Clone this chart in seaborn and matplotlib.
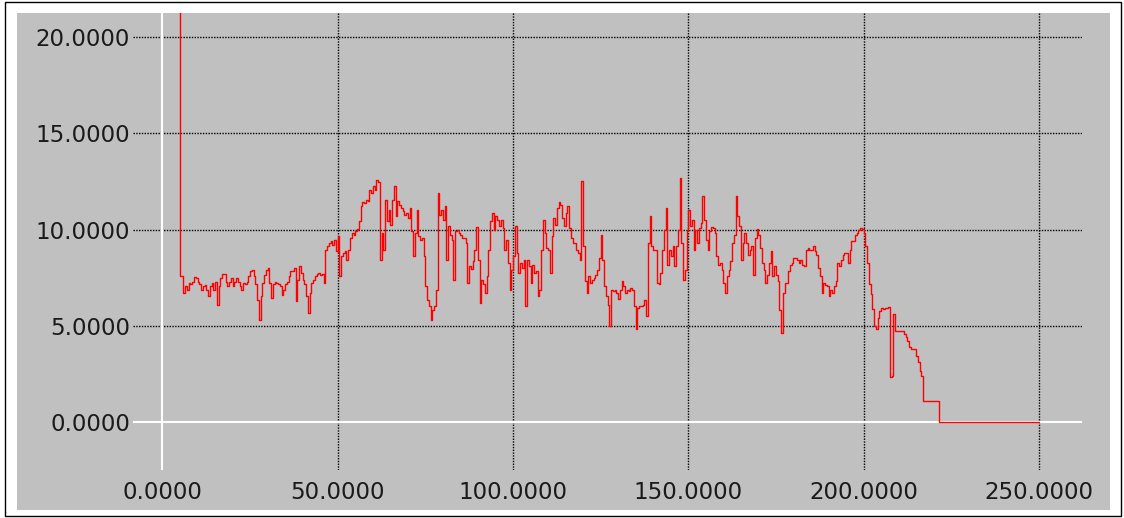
import numpy as np
import pandas as pd
import matplotlib
matplotlib.use("Agg")
import matplotlib.pyplot as plt
from matplotlib.patches import Rectangle
from matplotlib.ticker import FormatStrFormatter
import seaborn as sns

# samples are 0.5 apart inside each segment
STEP = 0.5

# start value, off the top of the chart
head_x = [0.0]
head_y = [25.0]

# x = 5.0 .. 44.5
seg1_start = 5.0
seg1 = [7.6, 7.6, 6.7, 7.06, 6.88, 7.23, 7.15, 7.3, 7.55, 7.5,
        7.3, 7.15, 6.88, 7.06, 7.1, 6.88, 6.54, 7.06, 7.23, 6.88,
        7.3, 6.1, 7.06, 7.5, 7.7, 7.7, 7.3, 7.06, 7.3, 7.5,
        7.06, 7.3, 7.5, 7.3, 7.06, 6.88, 7.23, 7.15, 7.3, 7.58,
        7.84, 7.92, 7.6, 7.15, 6.36, 5.32, 6.54, 7.23, 7.66, 7.92,
        8.0, 7.23, 6.45, 7.15, 7.26, 7.23, 7.15, 7.06, 6.62, 6.88,
        7.15, 7.26, 7.58, 7.84, 7.84, 8.0, 6.28, 7.4, 8.1, 7.75,
        7.4, 7.15, 6.54, 5.67, 6.71, 7.23, 7.4, 7.58, 7.7, 7.75]

# x = 45.0 .. 87.0
seg2_start = 45.0
seg2 = [7.66, 7.7, 7.23, 8.96, 9.13, 9.31, 9.39, 9.22, 9.48, 8.87,
        9.65, 7.6, 8.61, 8.79, 8.87, 8.44, 8.96, 9.57, 9.83, 9.74,
        9.91, 10.03, 10.43, 11.21, 11.42, 11.39, 11.56, 11.47, 12.08, 11.9,
        12.25, 12.08, 12.6, 12.46, 8.44, 9.83, 8.96, 11.56, 10.43, 11.04,
        10.26, 11.56, 12.25, 10.69, 11.47, 11.3, 11.13, 10.95, 10.78, 10.87,
        10.6, 11.13, 9.91, 8.61, 9.83, 11.04, 9.65, 9.48, 9.57, 8.61,
        7.06, 6.36, 6.02, 5.32, 5.84, 6.02, 6.88, 11.9, 10.78, 11.04,
        10.52, 11.21, 8.44, 10.17, 9.74, 9.48, 7.4, 9.91, 10.0, 9.83,
        9.74, 9.57, 9.57, 9.31, 7.23]

# x = 87.5 .. 127.5
seg3_start = 87.5
seg3 = [8.1, 7.96, 8.35, 8.96, 10.14, 8.44, 6.2, 7.4, 7.15, 6.71,
        7.58, 8.96, 10.43, 10.87, 10.0, 10.69, 10.52, 10.21, 10.48, 10.09,
        8.96, 9.48, 8.27, 6.88, 7.92, 8.61, 10.17, 8.79, 7.75, 8.27,
        8.0, 8.44, 6.02, 8.44, 8.1, 7.23, 8.18, 7.75, 7.84, 6.54,
        6.88, 8.96, 10.52, 9.83, 9.05, 8.96, 7.75, 9.65, 10.6, 10.26,
        11.13, 11.42, 11.3, 10.6, 10.17, 10.87, 11.21, 10.09, 9.57, 9.31,
        9.31, 8.96, 8.79, 8.44, 12.51, 9.13, 7.32, 6.71, 7.58, 7.23,
        7.4, 7.49, 7.66, 7.92, 8.53, 9.74, 8.44, 7.06, 6.54, 6.1,
        4.98]

# x = 128.0 .. 168.5
seg4_start = 128.0
seg4 = [6.88, 6.8, 6.88, 6.71, 6.4, 6.88, 7.32, 7.06, 6.71, 6.88,
        6.8, 6.97, 6.88, 6.02, 4.81, 5.93, 6.02, 6.02, 6.1, 6.36,
        5.5, 9.31, 10.69, 9.13, 8.96, 8.96, 7.23, 7.15, 7.75, 8.96,
        10.0, 11.13, 8.18, 8.96, 8.61, 9.13, 8.1, 9.13, 10.0, 12.68,
        9.31, 7.4, 7.92, 9.91, 11.04, 10.17, 10.52, 8.96, 10.0, 9.31,
        10.09, 10.35, 11.73, 10.52, 9.48, 8.96, 9.91, 10.14, 10.09, 9.83,
        8.61, 8.18, 8.27, 7.92, 7.23, 6.71, 7.58, 7.92, 8.35, 9.31,
        9.74, 11.73, 10.69, 10.17, 8.44, 9.31, 9.83, 9.31, 8.7, 8.96,
        9.13, 7.66]

# x = 169.0 .. 200.0
seg5_start = 169.0
seg5 = [9.57, 10.03, 9.74, 9.05, 8.27, 7.92, 7.23, 7.66, 8.27, 8.87,
        7.58, 8.1, 7.66, 7.32, 5.84, 4.63, 6.71, 7.23, 7.23, 7.84,
        8.18, 8.27, 8.53, 8.53, 8.44, 8.27, 8.44, 8.18, 8.1, 8.96,
        9.05, 8.96, 8.96, 9.13, 8.87, 8.7, 8.0, 7.58, 6.71, 7.23,
        7.14, 7.06, 6.54, 6.88, 6.71, 7.06, 7.32, 8.27, 8.1, 8.44,
        8.7, 8.79, 8.79, 8.27, 8.96, 9.39, 9.39, 9.74, 9.83, 10.0,
        10.09, 10.03, 9.83]

# x = 200.5 .. 208.5
seg6_start = 200.5
seg6 = [9.14, 8.28, 7.16, 6.64, 5.86, 5.0, 4.83, 5.43, 5.78, 5.9,
        5.86, 5.95, 5.95, 6.0, 2.35, 2.4, 5.6]

# stair-step fall-off at the end
tail_x = [209.0, 211.5, 212.0, 212.5, 213.0, 213.5, 215.0, 215.5, 216.0, 216.5, 217.0, 221.5, 250.0]
tail_y = [4.74, 4.57, 4.4, 4.22, 3.9, 3.79, 3.45, 3.1, 2.67, 2.4, 1.1, 0.0, 0.0]

x_ticks = [0, 50, 100, 150, 200, 250]
y_ticks = [0, 5, 10, 15, 20]

GRAY = "#c0c0c0"
W, H = 1124, 518


def build_trace():
    xs, ys = list(head_x), list(head_y)
    for start, seg in [(seg1_start, seg1), (seg2_start, seg2), (seg3_start, seg3),
                       (seg4_start, seg4), (seg5_start, seg5), (seg6_start, seg6)]:
        xs.extend(start + STEP * np.arange(len(seg)))
        ys.extend(seg)
    xs.extend(tail_x)
    ys.extend(tail_y)
    return pd.DataFrame({"x": xs, "y": ys})


sns.set_style("white")
plt.rcParams["font.family"] = ["DejaVu Sans"]

fig = plt.figure(figsize=(W / 100, H / 100), dpi=100, facecolor="white")

# grey panel and outer frame
fig.patches.append(Rectangle((17 / W, 1 - 510 / H), (1110 - 17) / W, (510 - 13) / H,
                             transform=fig.transFigure, facecolor=GRAY,
                             edgecolor="none", zorder=-2))
fig.patches.append(Rectangle((5 / W, 1 - 516 / H), (1121 - 5) / W, (516 - 2) / H,
                             transform=fig.transFigure, fill=False,
                             edgecolor="black", linewidth=1.0, zorder=-1))

ax = fig.add_axes([133 / W, 1 - 470 / H, (1082 - 133) / W, (470 - 13) / H])
ax.set_facecolor("none")
for s in ax.spines.values():
    s.set_visible(False)

trace = build_trace()

# dotted grid, white zero lines
for xv in x_ticks[1:]:
    ax.axvline(xv, color="black", linewidth=1.0, linestyle=(0, (1, 1)), zorder=1)
for yv in y_ticks[1:]:
    ax.axhline(yv, color="black", linewidth=1.0, linestyle=(0, (1, 1)), zorder=1)
ax.axvline(0, color="white", linewidth=1.5, zorder=2)
ax.axhline(0, color="white", linewidth=1.5, zorder=2)

sns.lineplot(data=trace, x="x", y="y", color="red", linewidth=1.0,
             drawstyle="steps-post", estimator=None, sort=False,
             legend=False, ax=ax, zorder=3)

ax.set_xlim(-8.4, 262.3)
ax.set_ylim(-2.49, 21.25)
ax.set_xticks(x_ticks)
ax.set_yticks(y_ticks)
ax.xaxis.set_major_formatter(FormatStrFormatter("%.4f"))
ax.yaxis.set_major_formatter(FormatStrFormatter("%.4f"))
ax.tick_params(axis="both", length=0, labelsize=16.5, labelcolor="#1a1a1a")
ax.tick_params(axis="y", pad=2)
ax.tick_params(axis="x", pad=8)
ax.set_xlabel("")
ax.set_ylabel("")
ax.grid(False)

fig.savefig("out.png", dpi=100, facecolor="white")
